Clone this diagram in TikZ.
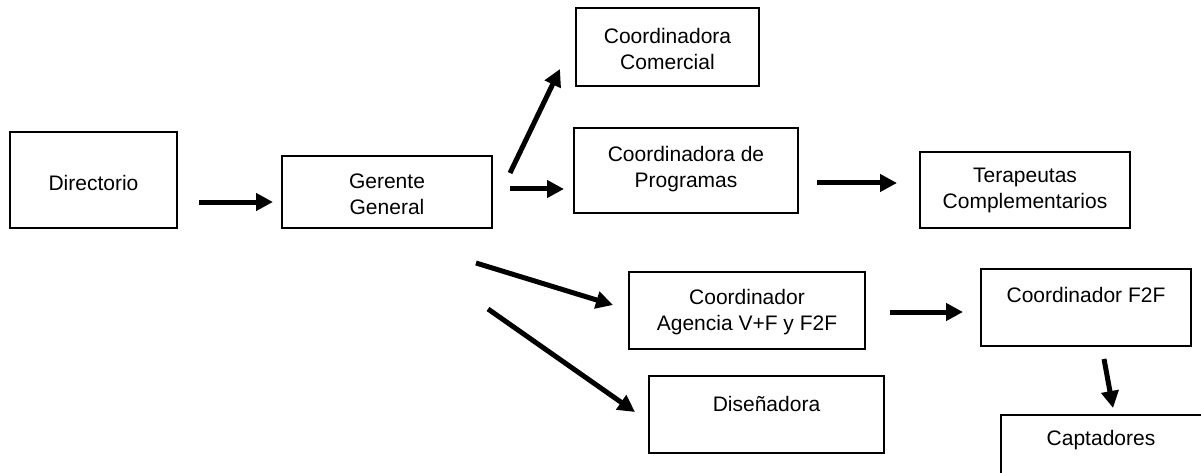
\documentclass[tikz,border=0pt]{standalone}
\usepackage{fontspec}
\setmainfont{Liberation Sans}
\usetikzlibrary{arrows.meta}
\tikzset{
  box/.style={draw=black, line width=1.6pt, rectangle, inner sep=0pt},
  txt/.style={align=center, font=\fontsize{21}{26}\selectfont, inner sep=0pt},
  arr/.style={line width=5pt, -{Triangle[length=17pt,width=17pt]}},
}
\begin{document}
\begin{tikzpicture}[x=1pt,y=-1pt]
\useasboundingbox (0,0) rectangle (1201,473);
\clip (0,0) rectangle (1201,473);
% boxes
\node[box, minimum width=167pt, minimum height=96pt] (dir) at (93.5,180) {};
\node[box, minimum width=210pt, minimum height=72pt] (ger) at (387,192) {};
\node[box, minimum width=183pt, minimum height=78pt] (com) at (667.5,47) {};
\node[box, minimum width=224pt, minimum height=85pt] (pro) at (686,170.5) {};
\node[box, minimum width=210pt, minimum height=76pt] (ter) at (1025,190) {};
\node[box, minimum width=236pt, minimum height=77pt] (age) at (747,310.5) {};
\node[box, minimum width=235pt, minimum height=77pt] (dis) at (766.5,414.5) {};
\node[box, minimum width=210pt, minimum height=77pt] (f2f) at (1086,307.5) {};
\node[box, minimum width=230pt, minimum height=90pt] (cap) at (1116,460) {};
% texts
\node[txt] (tdir) at (93.5,183) {Directorio};
\node[txt] (tger) at (387,194.5) {Gerente\\General};
\node[txt] (tcom) at (667.5,48.5) {Coordinadora\\Comercial};
\node[txt] (tpro) at (686,169) {Coordinadora de\\Programas};
\node[txt] (tter) at (1025,190) {Terapeutas\\Complementarios};
\node[txt] (tage) at (747,312.5) {Coordinador\\Agencia V+F y F2F};
\node[txt] (tdis) at (766.5,404) {Diseñadora};
\node[txt] (tf2f) at (1086,295) {Coordinador F2F};
\node[txt] (tcap) at (1101,440) {Captadores};
% arrow end points
\coordinate (a1s) at (199,202);  \coordinate (a1e) at (273,202);
\coordinate (a2s) at (510,173);  \coordinate (a2e) at (560,69);
\coordinate (a3s) at (510,189);  \coordinate (a3e) at (564,189);
\coordinate (a4s) at (817,183);  \coordinate (a4e) at (897,183);
\coordinate (a5s) at (476,263);  \coordinate (a5e) at (613,305);
\coordinate (a6s) at (488,309);  \coordinate (a6e) at (635,412);
\coordinate (a7s) at (890,312);  \coordinate (a7e) at (963,312);
\coordinate (a8s) at (1104,359); \coordinate (a8e) at (1113,408);
\draw[arr] (a1s) -- (a1e);
\draw[arr] (a2s) -- (a2e);
\draw[arr] (a3s) -- (a3e);
\draw[arr] (a4s) -- (a4e);
\draw[arr] (a5s) -- (a5e);
\draw[arr] (a6s) -- (a6e);
\draw[arr] (a7s) -- (a7e);
\draw[arr] (a8s) -- (a8e);
\end{tikzpicture}
\end{document}
